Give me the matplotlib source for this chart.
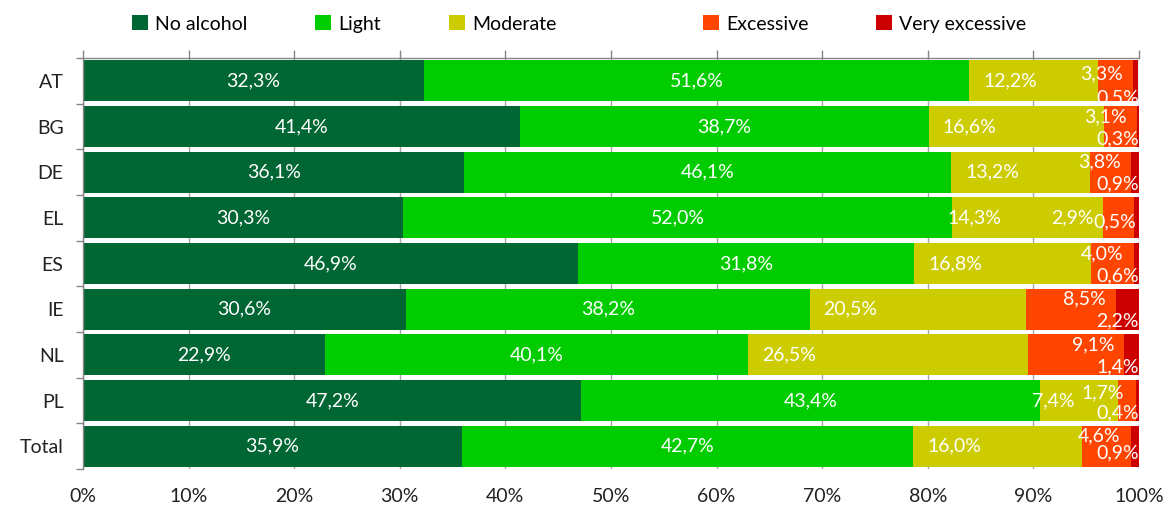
import matplotlib
matplotlib.use("Agg")
import matplotlib.pyplot as plt
from matplotlib.patches import Patch
from matplotlib.transforms import offset_copy
import numpy as np

categories = ["AT", "BG", "DE", "EL", "ES", "IE", "NL", "PL", "Total"]
series_names = ["No alcohol", "Light", "Moderate", "Excessive", "Very excessive"]
no_alcohol = [32.3, 41.4, 36.1, 30.3, 46.9, 30.6, 22.9, 47.2, 35.9]
light = [51.6, 38.7, 46.1, 52.0, 31.8, 38.2, 40.1, 43.4, 42.7]
moderate = [12.2, 16.6, 13.2, 14.3, 16.8, 20.5, 26.5, 7.4, 16.0]
excessive = [3.3, 3.1, 3.8, 2.9, 4.0, 8.5, 9.1, 1.7, 4.6]
very_excessive = [0.5, 0.3, 0.9, 0.5, 0.6, 2.2, 1.4, 0.4, 0.9]
x_ticks = [0, 10, 20, 30, 40, 50, 60, 70, 80, 90, 100]

colors = ["#006633", "#00CC00", "#CCCC00", "#FF4500", "#CC0000"]
FONT = "Lato"
plt.rcParams["font.family"] = [FONT, "DejaVu Sans"]

W, H = 1175, 511
fig = plt.figure(figsize=(W / 100, H / 100), dpi=100)
ax = fig.add_axes([83 / W, 1 - 469 / H, (1139 - 83) / W, (469 - 58) / H])

series = [no_alcohol, light, moderate, excessive, very_excessive]
n = len(categories)
y = np.arange(n)
left = np.zeros(n)
lefts = []
for vals, col, name in zip(series, colors, series_names):
    v = np.array(vals)
    ax.barh(y, v, left=left, height=0.9, color=col, edgecolor="none", zorder=2, label=name)
    lefts.append(left.copy())
    left = left + v

ax.set_xlim(0, 100)
ax.set_ylim(n - 0.5, -0.5)

def fmt(v):
    return f"{v:.1f}%".replace(".", ",")

fs = 14
# label nudges (pixels) for manually moved labels
mod_nudge = {"EL": -19, "PL": -22}
exc_nudge = {"EL": (-30, -10), "PL": (-2, -2), "AT": (0, -3)}
ve_nudge = {"EL": (-3, 8), "AT": (0, -5), "Total": (0, 5)}
for i, cat in enumerate(categories):
    for k in (0, 1):
        v = series[k][i]
        ax.text(lefts[k][i] + v / 2, i, fmt(v), ha="center", va="center",
                color="white", fontsize=fs, zorder=5)
    dx = 14 + mod_nudge.get(cat, 0)
    tr = offset_copy(ax.transData, fig=fig, x=dx, y=0, units="dots")
    ax.text(lefts[2][i], i, fmt(moderate[i]), ha="left", va="center",
            color="white", fontsize=fs, zorder=5, transform=tr)
    ex, ey = exc_nudge.get(cat, (0, 0))
    tr = offset_copy(ax.transData, fig=fig, x=-10 + ex, y=10 + ey, units="dots")
    ax.text(lefts[3][i] + excessive[i], i, fmt(excessive[i]), ha="right", va="center",
            color="white", fontsize=fs, zorder=5, transform=tr)
    vx, vy = ve_nudge.get(cat, (0, 0))
    tr = offset_copy(ax.transData, fig=fig, x=vx, y=-12 + vy, units="dots")
    ax.text(100, i, fmt(very_excessive[i]), ha="right", va="center",
            color="white", fontsize=fs, zorder=5, transform=tr)

ax.set_yticks(y)
ax.set_yticklabels(categories, fontsize=fs, color="#222222")
ax.set_yticks(np.arange(-0.5, n, 1), minor=True)
ax.tick_params(axis="y", which="major", length=0, pad=14)
ax.tick_params(axis="y", which="minor", length=5, color="#868686", width=1, direction="out")

ax.set_xticks(x_ticks)
ax.set_xticklabels([f"{t}%" for t in x_ticks], fontsize=fs, color="#222222")
ax.tick_params(axis="x", which="both", top=True, bottom=False, labeltop=False, labelbottom=True,
               length=6, color="#868686", width=1, pad=8)
ax.xaxis.grid(True, color="#A6A6A6", linewidth=1, zorder=0)
ax.set_axisbelow(True)

for side in ["right", "bottom"]:
    ax.spines[side].set_visible(False)
for side in ["top", "left"]:
    ax.spines[side].set_color("#868686")
    ax.spines[side].set_linewidth(1)

# legend entries placed individually (Excel-like spacing)
legend_x = [132, 315, 449, 703, 876]
for xpos, c, name in zip(legend_x, colors, series_names):
    fig.legend([Patch(facecolor=c, edgecolor="none")], [name], loc="center left",
               bbox_to_anchor=(xpos / W, 1 - 24 / H), frameon=False, fontsize=fs,
               handlelength=0.8, handleheight=0.8, handletextpad=0.4,
               borderpad=0, borderaxespad=0)

fig.savefig("out.png", dpi=100)
